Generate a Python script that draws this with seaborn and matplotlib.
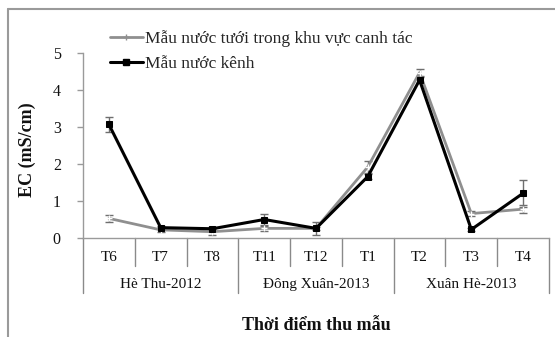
import numpy as np
import pandas as pd
import matplotlib
matplotlib.use("Agg")
import matplotlib.pyplot as plt
import matplotlib.transforms as mtransforms
from matplotlib.lines import Line2D
import seaborn as sns

# Sampling months and the cropping seasons they belong to
months = ["T6", "T7", "T8", "T11", "T12", "T1", "T2", "T3", "T4"]
seasons = ["Hè Thu-2012", "Đông Xuân-2013", "Xuân Hè-2013"]
months_per_season = [3, 3, 3]

# EC (mS/cm): irrigation water inside the cultivated area
ec_field = [0.53, 0.22, 0.17, 0.26, 0.26, 1.92, 4.47, 0.66, 0.78]
ec_field_err = [0.10, 0.07, 0.08, 0.06, 0.17, 0.15, 0.10, 0.06, 0.10]
# EC (mS/cm): canal water
ec_canal = [3.07, 0.28, 0.25, 0.50, 0.26, 1.66, 4.27, 0.23, 1.21]
ec_canal_err = [0.20, 0.05, 0.04, 0.14, 0.05, 0.07, 0.08, 0.05, 0.36]

label_field = "Mẫu nước tưới trong khu vực canh tác"
label_canal = "Mẫu nước kênh"

field = pd.DataFrame({"month": months, "ec": ec_field, "err": ec_field_err})
canal = pd.DataFrame({"month": months, "ec": ec_canal, "err": ec_canal_err})

sns.set_theme(style="white")
plt.rcParams["font.family"] = ["Liberation Serif", "DejaVu Serif"]

W, H = 555, 337
fig = plt.figure(figsize=(W / 100, H / 100), dpi=100)
ax = fig.add_axes([83 / W, 1 - 238 / H, (549 - 83) / W, (238 - 53) / H])

grey_col = "#8f8f8f"
err_col = "#6e6e6e"

# error bars first so the lines sit on top
for sub in (field, canal):
    ax.errorbar(sub["month"], sub["ec"], yerr=sub["err"], fmt="none",
                ecolor=err_col, elinewidth=1.0, capsize=3, capthick=1.0,
                zorder=2)

sns.lineplot(data=field, x="month", y="ec", color=grey_col, marker="+",
             markersize=5, markeredgewidth=1.0, linewidth=2.0, sort=False,
             ax=ax, zorder=3)
sns.lineplot(data=canal, x="month", y="ec", color="black", marker="s",
             markersize=5, markeredgecolor="black", linewidth=2.2, sort=False,
             ax=ax, zorder=4)

ax.set_xlim(-0.5, len(months) - 0.5)
ax.set_ylim(0, 5)
ax.set_yticks(range(0, 6))
ax.set_xticks([])
ax.set_xlabel("")
ax.set_ylabel("")

for side in ["top", "right"]:
    ax.spines[side].set_visible(False)
for side in ["left", "bottom"]:
    ax.spines[side].set_color("#9a9a9a")
    ax.spines[side].set_linewidth(1.0)
ax.tick_params(axis="y", direction="out", length=4, width=1, color="#9a9a9a",
               pad=12, labelsize=11.5, labelcolor="#111111", left=True)

# two-level category axis: months, then seasons
trans = mtransforms.blended_transform_factory(ax.transData, ax.transAxes)
sep_col = "#8a8a8a"
for i, m in enumerate(months):
    ax.text(i, -0.103, m, transform=trans, ha="center", va="center",
            fontsize=11, color="#111111")
bounds = np.cumsum([0] + months_per_season) - 0.5
for i in range(len(months) + 1):
    x = i - 0.5
    y_end = -0.297 if x in bounds else -0.151
    ax.add_line(Line2D([x, x], [0, y_end], transform=trans, color=sep_col,
                       lw=1.0, clip_on=False))
for s, lo, hi in zip(seasons, bounds[:-1], bounds[1:]):
    ax.text((lo + hi) / 2, -0.249, s, transform=trans, ha="center",
            va="center", fontsize=11, color="#111111")

fig.text(316 / W, 1 - 325 / H, "Thời điểm thu mẫu", ha="center", va="center",
         fontsize=13, fontweight="bold", color="#111111")
fig.text(27 / W, 1 - 150 / H, "EC (mS/cm)", ha="center", va="center",
         rotation=90, fontsize=13, fontweight="bold", color="#111111")

handles = [
    Line2D([], [], color=grey_col, lw=2.0, marker="+", markersize=5),
    Line2D([], [], color="black", lw=2.2, marker="s", markersize=5),
]
fig.legend(handles, [label_field, label_canal], loc="upper left",
           bbox_to_anchor=(110 / W, 1 - 30 / H), frameon=False, borderpad=0,
           fontsize=12.5, handlelength=1.9, handletextpad=0.1,
           labelspacing=0.5, borderaxespad=0)

# outer chart-area border
fig.add_artist(Line2D([8 / W, 1.0], [1 - 9 / H, 1 - 9 / H],
                      transform=fig.transFigure, color="#9a9a9a", lw=1.5))
fig.add_artist(Line2D([8 / W, 8 / W], [0.0, 1 - 9 / H],
                      transform=fig.transFigure, color="#9a9a9a", lw=1.5))

fig.savefig("out.png", dpi=100, facecolor="white")
